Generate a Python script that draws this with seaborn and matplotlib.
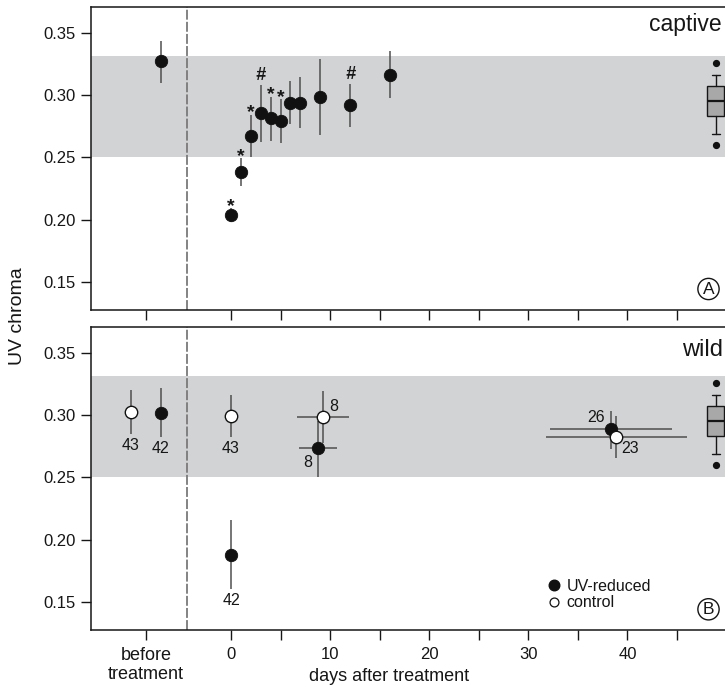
import numpy as np
import matplotlib
matplotlib.use("Agg")
import matplotlib.pyplot as plt
from matplotlib.lines import Line2D
import seaborn as sns

sns.set_theme(style="ticks")
plt.rcParams['font.family'] = ['Liberation Sans', 'DejaVu Sans']

# ---- captive birds (UV-reduced), mean with range ----
cap_day = [-7.1, 0, 1, 2, 3, 4, 5, 6, 7, 9, 12, 16]
cap_mean = [0.3275, 0.2037, 0.2383, 0.2673, 0.2856, 0.2816, 0.2794, 0.2941, 0.2941, 0.2987, 0.2920, 0.3167]
cap_lo = [0.3102, 0.1983, 0.2273, 0.2506, 0.2627, 0.2635, 0.2619, 0.2767, 0.2735, 0.2681, 0.2748, 0.2981]
cap_hi = [0.3438, 0.2091, 0.2494, 0.2842, 0.3084, 0.2990, 0.2969, 0.3116, 0.3151, 0.3291, 0.3092, 0.3357]
cap_sig = ['', '*', '*', '*', '#', '*', '*', '', '', '', '#', '']

# ---- wild birds, UV-reduced ----
uv_day = [-7.1, 0, 8.79, 38.38]
uv_mean = [0.3022, 0.1878, 0.2735, 0.2888]
uv_lo = [0.2829, 0.1600, 0.2507, 0.2729]
uv_hi = [0.3218, 0.2158, 0.2957, 0.3035]
uv_day_lo = [None, None, 6.9, 32.2]
uv_day_hi = [None, None, 10.67, 44.5]
uv_n = [42, 42, 8, 26]

# ---- wild birds, control ----
ct_day = [-10.13, 0, 9.33, 38.89]
ct_mean = [0.3030, 0.2998, 0.2990, 0.2826]
ct_lo = [0.2850, 0.2829, 0.2780, 0.2659]
ct_hi = [0.3205, 0.3162, 0.3199, 0.2995]
ct_day_lo = [None, None, 6.7, 31.8]
ct_day_hi = [None, None, 11.95, 46.0]
ct_n = [43, 43, 8, 23]

# reference range of untreated birds
ref_band = (0.25, 0.332)
ref_box = dict(med=0.2951, q1=0.2831, q3=0.3077, whislo=0.2692, whishi=0.3164,
               fliers=[0.2601, 0.3258])
ref_x = 48.9

x_ticks = [-8.6, 0, 5, 10, 15, 20, 25, 30, 35, 40, 45]
x_ticklabels = ['before\ntreatment', '0', '', '10', '', '20', '', '30', '', '40', '']
y_ticks = [0.15, 0.20, 0.25, 0.30, 0.35]

W, H = 725, 689
fig = plt.figure(figsize=(W / 100, H / 100), dpi=100)

ink = '#161616'


def fx(px):
    return px / W


def fy(py):
    return 1 - py / H


left, right = 90.7, 728.0
ax_top = fig.add_axes([fx(left), fy(309.5), fx(right - left), (309.5 - 6.7) / H])
ax_bot = fig.add_axes([fx(left), fy(629.5), fx(right - left), (629.5 - 326.7) / H])

band_col = '#d2d3d5'
err_col = '#4f4f4f'
msize = 80

for ax in (ax_top, ax_bot):
    ax.set_xlim(-14.16, 50.15)
    ax.set_ylim(0.1276, 0.3714)
    ax.axhspan(*ref_band, color=band_col, lw=0, zorder=0)
    ax.axvline(-4.4, color='#7a7a7a', lw=1.3, ls=(0, (5.5, 1.2)), zorder=1)
    ax.set_yticks(y_ticks)
    ax.set_yticklabels([f'{v:.2f}' for v in y_ticks])
    ax.set_xticks(x_ticks)
    ax.tick_params(axis='both', direction='out', length=7.5, width=1.0,
                   colors=ink, labelsize=12, labelcolor=ink)
    ax.tick_params(axis='x', pad=5)
    for s in ax.spines.values():
        s.set_color(ink)
        s.set_linewidth(1.1)
    ax.bxp([dict(ref_box, label='')], positions=[ref_x], widths=1.78,
           showfliers=True, patch_artist=True, capwidths=0.8,
           boxprops=dict(facecolor='#a8a8a8', edgecolor=ink, lw=1.0),
           medianprops=dict(color=ink, lw=1.6),
           whiskerprops=dict(color=ink, lw=1.0),
           capprops=dict(color=ink, lw=1.0),
           flierprops=dict(marker='o', markersize=4.2, markerfacecolor='#111111',
                           markeredgecolor='#111111'),
           manage_ticks=False, zorder=3)
    ax.set_xlim(-14.16, 50.15)
    ax.set_facecolor('white')

ax_top.set_xticklabels([])
ax_bot.set_xticklabels(x_ticklabels)
ax_bot.get_xticklabels()[0].set_fontsize(13)

# ---- top panel ----
cm = np.array(cap_mean)
ax_top.errorbar(cap_day, cap_mean, yerr=[cm - np.array(cap_lo), np.array(cap_hi) - cm],
                fmt='none', ecolor=err_col, elinewidth=1.1, capsize=0, zorder=2)
sns.scatterplot(x=cap_day, y=cap_mean, ax=ax_top, color='#111111', s=msize,
                edgecolor='#111111', linewidth=0.6, zorder=4, legend=False)
for d, hi, sig in zip(cap_day, cap_hi, cap_sig):
    if sig == '*':
        ax_top.annotate('*', (d, hi), xytext=(0, 2), textcoords='offset pixels',
                        ha='center', va='center', fontsize=14, fontweight='bold',
                        color=ink)
    elif sig == '#':
        ax_top.annotate('#', (d, hi), xytext=(0, 9), textcoords='offset pixels',
                        ha='center', va='center', fontsize=13, fontweight='bold',
                        fontstyle='italic', color=ink)

# ---- bottom panel ----
um = np.array(uv_mean)
tm = np.array(ct_mean)
ax_bot.errorbar(uv_day, uv_mean, yerr=[um - np.array(uv_lo), np.array(uv_hi) - um],
                fmt='none', ecolor=err_col, elinewidth=1.1, capsize=0, zorder=2)
ax_bot.errorbar(ct_day, ct_mean, yerr=[tm - np.array(ct_lo), np.array(ct_hi) - tm],
                fmt='none', ecolor=err_col, elinewidth=1.1, capsize=0, zorder=2)
for days, means, dlo, dhi in ((uv_day, uv_mean, uv_day_lo, uv_day_hi),
                              (ct_day, ct_mean, ct_day_lo, ct_day_hi)):
    idx = [i for i, v in enumerate(dlo) if v is not None]
    xd = np.array([days[i] for i in idx])
    ax_bot.errorbar(xd, [means[i] for i in idx],
                    xerr=[xd - np.array([dlo[i] for i in idx]),
                          np.array([dhi[i] for i in idx]) - xd],
                    fmt='none', ecolor=err_col, elinewidth=1.1, capsize=0, zorder=2)

sns.scatterplot(x=uv_day, y=uv_mean, ax=ax_bot, color='#111111', s=msize,
                edgecolor='#111111', linewidth=0.6, zorder=4, legend=False)
sns.scatterplot(x=ct_day, y=ct_mean, ax=ax_bot, color='white', s=msize,
                edgecolor='#111111', linewidth=1.0, zorder=5, legend=False)

# sample sizes
num_kw = dict(textcoords='offset pixels', fontsize=11.5, color=ink)
for i in (0, 1):
    ax_bot.annotate(str(uv_n[i]), (uv_day[i], uv_lo[i]), xytext=(0, -4),
                    ha='center', va='top', **num_kw)
    ax_bot.annotate(str(ct_n[i]), (ct_day[i], ct_lo[i]), xytext=(0, -4),
                    ha='center', va='top', **num_kw)
ax_bot.annotate(str(ct_n[2]), (ct_day[2], ct_mean[2]), xytext=(10, 10),
                ha='center', va='center', **num_kw)
ax_bot.annotate(str(uv_n[2]), (uv_day[2], uv_mean[2]), xytext=(-10, -14),
                ha='center', va='center', **num_kw)
ax_bot.annotate(str(uv_n[3]), (uv_day[3], uv_mean[3]), xytext=(-15, 12),
                ha='center', va='center', **num_kw)
ax_bot.annotate(str(ct_n[3]), (ct_day[3], ct_mean[3]), xytext=(14, -12),
                ha='center', va='center', **num_kw)

# legend
handles = [Line2D([], [], ls='none', marker='o', markersize=7.6, markerfacecolor='#111111',
                  markeredgecolor='#111111'),
           Line2D([], [], ls='none', marker='o', markersize=6.4, markerfacecolor='white',
                  markeredgecolor='#111111', markeredgewidth=0.9)]
fig.legend(handles, ['UV-reduced', 'control'], loc='center left',
           bbox_to_anchor=(fx(546), fy(594.5)), frameon=False, fontsize=11.5,
           handlelength=1.0, handletextpad=0.3, labelspacing=0.12, borderpad=0,
           borderaxespad=0, labelcolor=ink)

# panel titles and letters
fig.text(fx(722), fy(25), 'captive', ha='right', va='center', fontsize=16.5, color=ink)
fig.text(fx(723), fy(350.5), 'wild', ha='right', va='center', fontsize=17, color=ink)
for lab, cy in (('A', 289), ('B', 609.3)):
    fig.text(fx(708.5), fy(cy), lab, ha='center', va='center', fontsize=12.5, color=ink,
             bbox=dict(boxstyle='circle,pad=0.18', fc='white', ec=ink, lw=1.0))

fig.text(fx(18), fy(316), 'UV chroma', rotation=90, ha='center', va='center',
         fontsize=14, color=ink,
         family=['Liberation Sans Narrow', 'Liberation Sans', 'DejaVu Sans'])
fig.text(fx(389), fy(676.5), 'days after treatment', ha='center', va='center',
         fontsize=13, color=ink)

fig.savefig('out.png', dpi=100)
